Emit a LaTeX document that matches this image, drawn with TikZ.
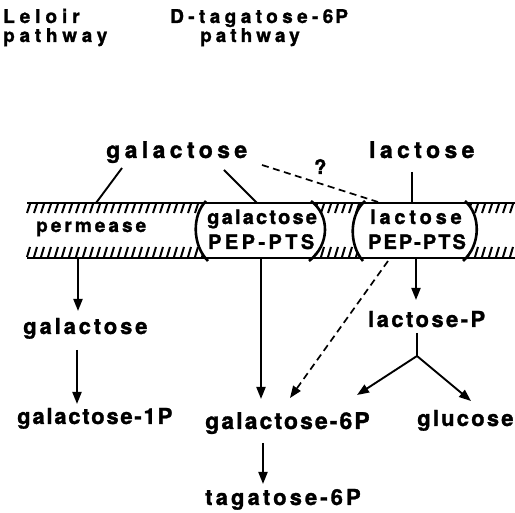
\documentclass[tikz,border=0pt]{standalone}
\usepackage{fontspec}
\setmainfont{TeX Gyre Heros}
\usetikzlibrary{arrows.meta}
\newcommand\tx[2]{\bfseries\fontsize{#1}{#1}\selectfont\addfontfeature{LetterSpace=#2,FakeBold=1.3}}
\tikzset{
  lbl/.style={inner sep=0pt, anchor=base west},
  ln/.style={line width=1.9pt},
  tip/.style={-{Triangle[length=12pt,width=9pt]}},
  arr/.style={line width=1.9pt, tip},
  dsh/.style={line width=1.7pt, dash pattern=on 7pt off 4.5pt},
  mem/.style={line width=2.6pt},
  hatch/.style={line width=2pt},
}
\begin{document}
\begin{tikzpicture}[x=1pt,y=-1pt]
\useasboundingbox (0,0) rectangle (515,513);
% headers
\node[lbl] (h1) at (3,23) {\tx{19}{26}Leloir};
\node[lbl] (h2) at (3,42) {\tx{19}{25}pathway};
\node[lbl] (h3) at (170,23) {\tx{19}{23}D-tagatose-6\kern2ptP};
\node[lbl] (h4) at (200,42) {\tx{19}{21}pathway};
% top texts
\node[lbl] (galtop) at (106,158) {\tx{23}{19}galactose};
\node[lbl] (q) at (314,174) {\tx{20}{0}?};
\node[lbl] (lactop) at (369,158) {\tx{23}{19}lactose};
% membrane hatch
\foreach \x in {27,34,...,515} {
  \draw[hatch] (\x,213) -- (\x+3,204);
  \draw[hatch] (\x,257) -- (\x+3,247);
}
% oval interiors
\fill[white] (206,203) .. controls (192,215) and (192,245) .. (208,258)
  -- (309,258) .. controls (330,245) and (330,215) .. (311,203) -- cycle;
\fill[white] (365,203) .. controls (349,215) and (349,245) .. (363,258)
  -- (463,258) .. controls (481,245) and (481,215) .. (465,203) -- cycle;
% membrane lines
\coordinate (ml1) at (27,203);
\coordinate (mr1) at (515,203);
\coordinate (ml2) at (27,258);
\coordinate (mr2) at (515,258);
\draw[mem] (ml1) -- (mr1);
\draw[mem] (ml2) -- (mr2);
% oval arcs
\draw[mem] (206,201) .. controls (192,215) and (192,245) .. (208,261);
\draw[mem] (311,201) .. controls (330,215) and (330,245) .. (309,261);
\draw[mem] (365,201) .. controls (349,215) and (349,245) .. (363,261);
\draw[mem] (465,201) .. controls (481,215) and (481,245) .. (463,261);
% membrane texts
\node[lbl] (perm) at (36,232) {\tx{19}{16}permease};
\node[lbl] (gpt1) at (207,224) {\tx{20}{11}galactose};
\node[lbl] (gpt2) at (208,249) {\tx{20}{17}PEP-PTS};
\node[lbl] (lpt1) at (370,224) {\tx{20}{19}lactose};
\node[lbl] (lpt2) at (368,249) {\tx{20}{10}PEP-PTS};
% lower texts
\node[lbl] (galL) at (23,334) {\tx{22}{13}galactose};
\node[lbl] (gal1p) at (17,424) {\tx{22}{8}galactose-1\kern2ptP};
\node[lbl] (gal6p) at (205,429) {\tx{23}{9}galactose-6\kern2ptP};
\node[lbl] (gluc) at (417,426) {\tx{22}{10}glucose};
\node[lbl] (lacp) at (368,327) {\tx{22}{11}lactose-P};
\node[lbl] (tag6p) at (205,505) {\tx{22}{14}tagatose-6P};
% connector coordinates
\coordinate (a1) at (122,168); \coordinate (a2) at (96,203);
\coordinate (b1) at (224,170); \coordinate (b2) at (257,203);
\coordinate (c1) at (262,165); \coordinate (c2) at (378,202);
\coordinate (d1) at (412,172); \coordinate (d2) at (412,203);
\coordinate (e1) at (78,259);  \coordinate (e2) at (78,311);
\coordinate (f1) at (261,259); \coordinate (f2) at (261,399);
\coordinate (g1) at (416,259); \coordinate (g2) at (416,300);
\coordinate (k1) at (388,261); \coordinate (k2) at (290,398);
\coordinate (m1) at (77,350);  \coordinate (m2) at (77,404);
\coordinate (n1) at (417,333); \coordinate (br) at (417,356);
\coordinate (n2) at (357,395); \coordinate (n3) at (471,401);
\coordinate (t1) at (263,443); \coordinate (t2) at (263,484);
\draw[ln] (a1) -- (a2);
\draw[ln] (b1) -- (b2);
\draw[dsh] (c1) -- (c2);
\draw[ln] (d1) -- (d2);
\draw[arr] (e1) -- (e2);
\draw[arr] (f1) -- (f2);
\draw[arr] (g1) -- (g2);
\draw[dsh, tip] (k1) -- (k2);
\draw[arr] (m1) -- (m2);
\draw[ln] (n1) -- (br);
\draw[arr] (br) -- (n2);
\draw[arr] (br) -- (n3);
\draw[arr] (t1) -- (t2);
\end{tikzpicture}
\end{document}
